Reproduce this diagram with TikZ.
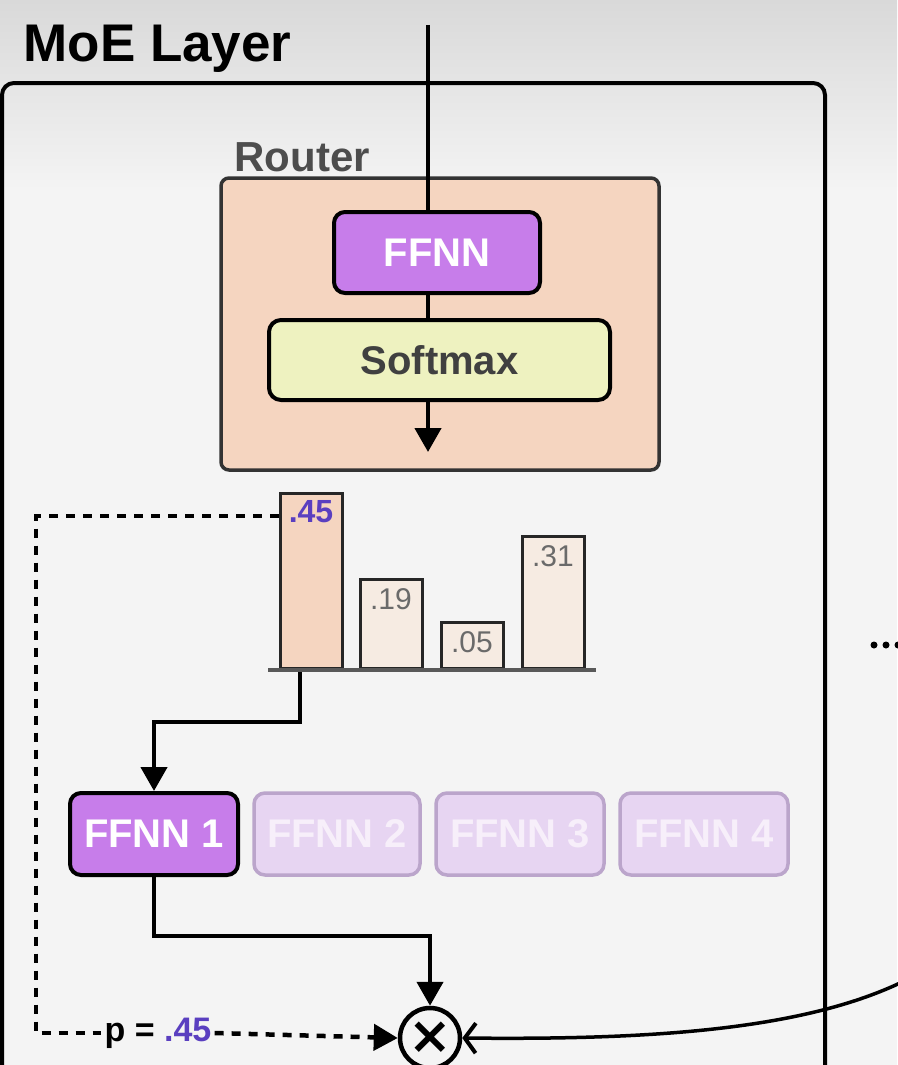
\documentclass[tikz,border=0pt]{standalone}
\usepackage{fontspec}
\setmainfont{Liberation Sans}
\newfontfamily\symfont{DejaVu Sans}
\usetikzlibrary{arrows.meta,positioning}

\definecolor{bgtop}{HTML}{D9D9D9}
\definecolor{bglight}{HTML}{F4F4F4}
\definecolor{routerfill}{HTML}{F5D5C0}
\definecolor{ffnnfill}{HTML}{C77DEA}
\definecolor{softfill}{HTML}{EEF2C0}
\definecolor{fadefill}{HTML}{E7D5F2}
\definecolor{fadedraw}{HTML}{BBA5CB}
\definecolor{fadetext}{HTML}{F7EFFA}
\definecolor{barfill}{HTML}{F6EBE2}
\definecolor{probtext}{HTML}{5A3FC0}
\definecolor{labelgray}{HTML}{4D4D4D}
\definecolor{valgray}{HTML}{6A6A6A}

\tikzset{
  ffnnbox/.style={draw=black, line width=4pt, fill=ffnnfill, rounded corners=11pt,
    text=white, font=\bfseries\fontsize{40}{40}\selectfont, inner sep=0pt},
  fadedbox/.style={ffnnbox, line width=3.5pt, draw=fadedraw, fill=fadefill, text=fadetext},
  barbox/.style={draw=black!85, line width=3pt, fill=barfill, anchor=south,
    minimum width=62pt, inner sep=0pt},
  barval/.style={anchor=north, text=valgray, font=\fontsize{30}{30}\selectfont},
  link/.style={line width=4.5pt},
  linkarrow/.style={link, -{Triangle[length=24pt,width=26pt]}},
  gatedash/.style={line width=4.5pt, dash pattern=on 9pt off 8pt}
}

\begin{document}
\begin{tikzpicture}[x=1pt,y=1pt,yscale=-1]
  \useasboundingbox (0,0) rectangle (897,1065);

  % background
  \fill[bglight] (0,0) rectangle (897,1065);
  \shade[top color=bgtop, bottom color=bglight] (0,0) rectangle (897,190);

  % layer frame
  \draw[line width=4pt, rounded corners=12pt] (2,1120) -- (2,83) -- (825,83) -- (825,1120);
  \node[anchor=base west, font=\bfseries\fontsize{53}{53}\selectfont] (title) at (20,62) {MoE Layer};

  % Router
  \node[draw=black!80, line width=3.5pt, fill=routerfill, rounded corners=8pt,
        minimum width=438pt, minimum height=292pt] (router) at (440,324) {};
  \node[anchor=base west, text=labelgray, font=\bfseries\fontsize{42}{42}\selectfont]
        (routerlabel) at (231,171) {Router};
  \node[ffnnbox, minimum width=206pt, minimum height=81pt] (ffnn) at (437,252.5) {FFNN};
  \node[ffnnbox, fill=softfill, text=black!75, rounded corners=12pt,
        minimum width=341pt, minimum height=80pt] (softmax) at (439.5,360) {Softmax};

  \coordinate (in) at (428,25);
  \coordinate (rout) at (428,452);
  \draw[link, line width=3.5pt] (in) -- (in |- ffnn.north);
  \draw[link] (in |- ffnn.south) -- (in |- softmax.north);
  \draw[linkarrow] (in |- softmax.south) -- (rout);

  % probabilities
  \node[barbox, fill=routerfill, minimum height=175pt] (bar1) at (311,670) {};
  \node[barbox, minimum height=89pt] (bar2) at (391,670) {};
  \node[barbox, minimum height=46pt] (bar3) at (472,670) {};
  \node[barbox, minimum height=132pt] (bar4) at (553,670) {};
  \draw[line width=4.5pt, black!65] (268,670) -- (596,670);

  \node[barval, text=probtext, font=\bfseries\fontsize{32}{32}\selectfont] (val1) at ([yshift=5pt]bar1.north) {.45};
  \node[barval] (val2) at ([yshift=7pt]bar2.north) {.19};
  \node[barval] (val3) at ([yshift=7pt]bar3.north) {.05};
  \node[barval] (val4) at ([yshift=7pt]bar4.north) {.31};

  % experts
  \node[ffnnbox, minimum width=168pt, minimum height=82pt] (f1) at (154,834) {FFNN 1};
  \node[fadedbox, minimum width=166pt, minimum height=82pt] (f2) at (337,834) {FFNN 2};
  \node[fadedbox, minimum width=168pt, minimum height=82pt] (f3) at (520,834) {FFNN 3};
  \node[fadedbox, minimum width=168pt, minimum height=82pt] (f4) at (704,834) {FFNN 4};

  % multiply
  \node[draw, circle, line width=4.5pt, minimum size=60pt, inner sep=0pt,
        font=\symfont\bfseries\fontsize{52}{52}\selectfont] (mult) at (430,1038) {×};

  \coordinate (pick) at (300,672);
  \draw[linkarrow] (pick) -- ++(0,50) -| (f1.north);
  \draw[linkarrow] (f1.south) -- ++(0,59) -| (mult.north);

  % gate value
  \node[font=\bfseries\fontsize{34}{34}\selectfont, inner sep=3pt] (gate) at (158,1033)
        {p = \textcolor{probtext}{.45}};
  \coordinate (gtop) at (36,516);
  \draw[gatedash] (bar1.west |- gtop) -- (gtop) -- (gtop |- gate) -- (gate.west);
  \draw[gatedash, -{Triangle[length=24pt,width=26pt]}] (gate.east) -- (mult.west);

  % residual input
  \coordinate (resid) at (900,983);
  \draw[link, line width=3.5pt, -{Straight Barb[length=11pt,width=30pt,line width=4pt]}]
        (resid) .. controls (800,1030) and (650,1040) .. (mult.east);

  % more layers
  \foreach \dx in {874,886,898}
    \fill (\dx,645) circle (3.5pt);
\end{tikzpicture}
\end{document}
